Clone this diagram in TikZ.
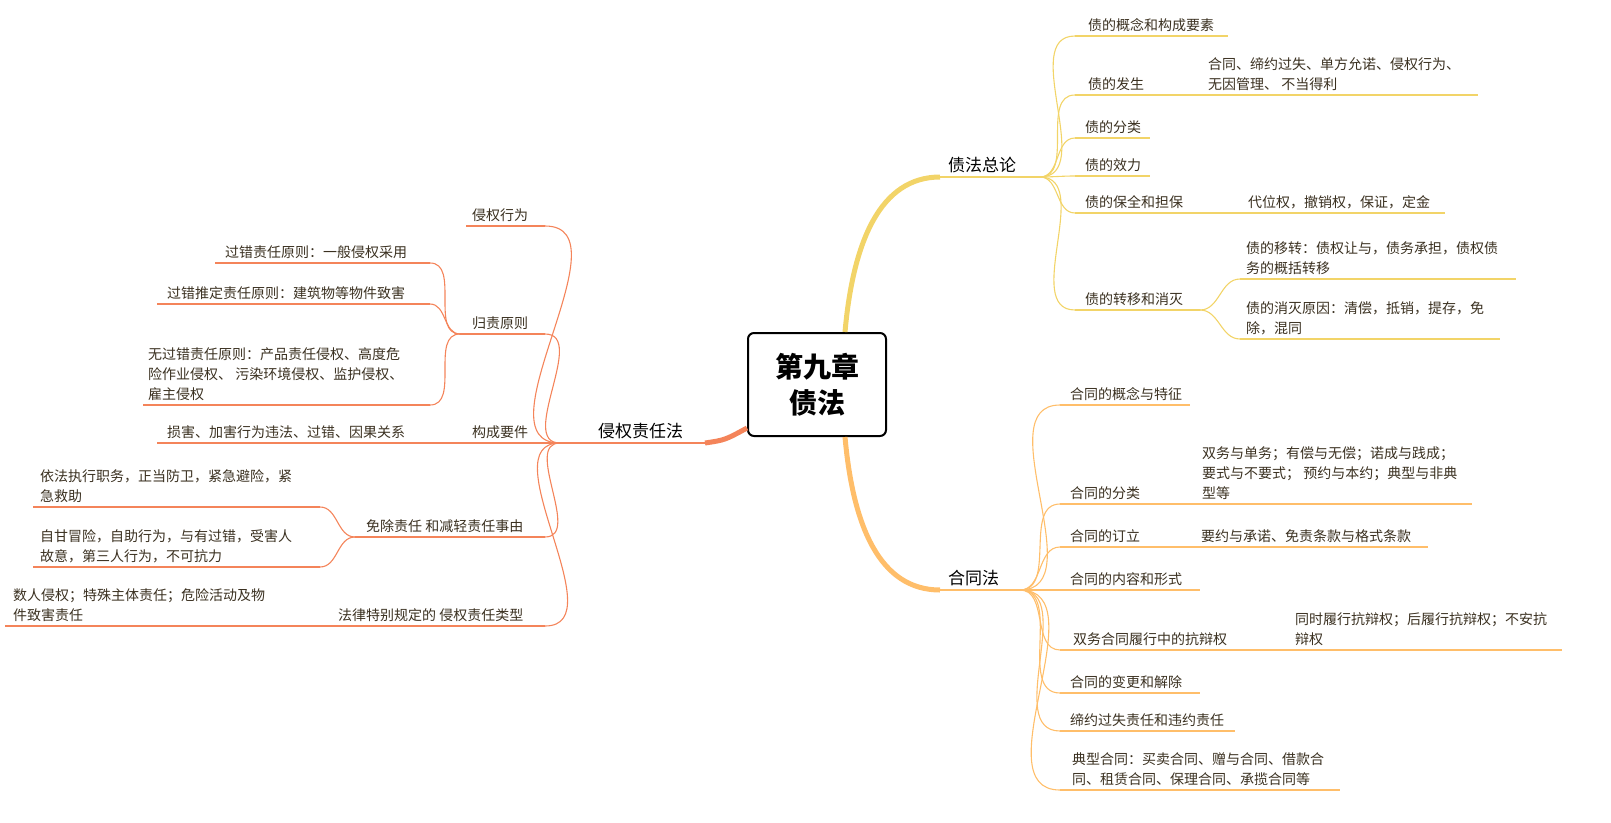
\documentclass[tikz,border=0pt]{standalone}
\usepackage{fontspec}
\setmainfont{Noto Sans CJK SC}
\usetikzlibrary{calc}
\definecolor{txt}{HTML}{3A3020}
\definecolor{cy}{HTML}{F2D468}
\definecolor{co}{HTML}{FFBE6A}
\definecolor{cr}{HTML}{F4845A}
\tikzset{
 t/.style={anchor=south west, inner sep=0pt, align=left, font=\fontsize{14}{20}\selectfont, text=txt},
 tb/.style={anchor=south west, inner sep=0pt, font=\fontsize{17}{20}\selectfont, text=black},
 ly/.style={cy, line width=1.1pt},
 lo/.style={co, line width=1.1pt},
 lr/.style={cr, line width=1.1pt},
}
% \br{name}{x1}{x2}{y}{textx}{text}{style}{textstyle}
\newcommand{\br}[8]{%
 \coordinate (#1) at (#2,#4); \coordinate (#1-e) at (#3,#4);
 \draw[#7] (#1) -- (#1-e);
 \node[#8] (#1-t) at (#5,#4-4) {#6};}
\begin{document}
\begin{tikzpicture}[x=1pt,y=-1pt]
\useasboundingbox (0,0) rectangle (1611,822);
\node[draw=black, line width=2pt, rounded corners=6pt, minimum width=138pt, minimum height=103pt, align=center, font=\fontsize{28}{36}\selectfont\bfseries] (center) at (817,384.5) {第九章\\债法};
% level 1
\br{zf}{940}{1040}{177}{948}{债法总论}{ly}{tb}
\br{ht}{940}{1020}{590}{948}{合同法}{lo}{tb}
\br{qq}{560}{705}{443}{598}{侵权责任法}{lr}{tb}
\draw[cy, line width=5pt] ($(center.north)+(28,0)$) .. controls +(8,-90) and (880,177) .. (zf);
\draw[co, line width=5pt] ($(center.south)+(28,0)$) .. controls +(8,90) and (880,590) .. (ht);
\draw[cr, line width=5pt] (center.west|-0,428) .. controls (725,440) .. (qq-e);
% 债法总论
\br{a1}{1075}{1228}{36}{1088}{债的概念和构成要素}{ly}{t}
\br{a2}{1075}{1200}{95}{1088}{债的发生}{ly}{t}
\br{a2c}{1200}{1478}{95}{1208}{合同、缔约过失、单方允诺、侵权行为、\\无因管理、 不当得利}{ly}{t}
\br{a3}{1075}{1150}{138}{1085}{债的分类}{ly}{t}
\br{a4}{1075}{1150}{176}{1085}{债的效力}{ly}{t}
\br{a5}{1075}{1240}{213}{1085}{债的保全和担保}{ly}{t}
\br{a5c}{1240}{1445}{213}{1248}{代位权，撤销权，保证，定金}{ly}{t}
\br{a6}{1075}{1200}{310}{1085}{债的转移和消灭}{ly}{t}
\br{a6a}{1240}{1516}{279}{1246}{债的移转：债权让与，债务承担，债权债\\务的概括转移}{ly}{t}
\br{a6b}{1240}{1500}{339}{1246}{债的消灭原因：清偿，抵销，提存，免\\除，混同}{ly}{t}
\foreach \c in {a1,a2,a3,a4,a5,a6} \draw[ly] (zf-e) to[out=0,in=180] (\c);
\draw[ly] (a6-e) to[out=0,in=180] (a6a);
\draw[ly] (a6-e) to[out=0,in=180] (a6b);
% 合同法
\br{b1}{1060}{1190}{405}{1070}{合同的概念与特征}{lo}{t}
\br{b2}{1060}{1195}{504}{1070}{合同的分类}{lo}{t}
\br{b2c}{1195}{1472}{504}{1202}{双务与单务；有偿与无偿；诺成与践成；\\要式与不要式； 预约与本约；典型与非典\\型等}{lo}{t}
\br{b3}{1060}{1195}{547}{1070}{合同的订立}{lo}{t}
\br{b3c}{1195}{1428}{547}{1201}{要约与承诺、免责条款与格式条款}{lo}{t}
\br{b4}{1060}{1200}{590}{1070}{合同的内容和形式}{lo}{t}
\br{b5}{1060}{1285}{650}{1073}{双务合同履行中的抗辩权}{lo}{t}
\br{b5c}{1285}{1562}{650}{1295}{同时履行抗辩权；后履行抗辩权；不安抗\\辩权}{lo}{t}
\br{b6}{1060}{1200}{693}{1070}{合同的变更和解除}{lo}{t}
\br{b7}{1060}{1235}{731}{1070}{缔约过失责任和违约责任}{lo}{t}
\br{b8}{1060}{1340}{790}{1072}{典型合同：买卖合同、赠与合同、借款合\\同、租赁合同、保理合同、承揽合同等}{lo}{t}
\foreach \c in {b1,b2,b3,b4,b5,b6,b7,b8} \draw[lo] (ht-e) to[out=0,in=180] (\c);
% 侵权责任法
\br{c1}{466}{545}{226}{472}{侵权行为}{lr}{t}
\br{c2}{460}{545}{334}{472}{归责原则}{lr}{t}
\br{c2a}{215}{430}{263}{225}{过错责任原则：一般侵权采用}{lr}{t}
\br{c2b}{157}{430}{304}{167}{过错推定责任原则：建筑物等物件致害}{lr}{t}
\br{c2c}{143}{430}{405}{148}{无过错责任原则：产品责任侵权、高度危\\险作业侵权、 污染环境侵权、监护侵权、\\雇主侵权}{lr}{t}
\br{c3}{460}{545}{443}{472}{构成要件}{lr}{t}
\br{c3c}{157}{460}{443}{167}{损害、加害行为违法、过错、因果关系}{lr}{t}
\br{c4}{355}{545}{537}{366}{免除责任 和减轻责任事由}{lr}{t}
\br{c4a}{33}{320}{507}{40}{依法执行职务，正当防卫，紧急避险，紧\\急救助}{lr}{t}
\br{c4b}{33}{320}{567}{40}{自甘冒险，自助行为，与有过错，受害人\\故意，第三人行为，不可抗力}{lr}{t}
\br{c5}{320}{545}{626}{338}{法律特别规定的 侵权责任类型}{lr}{t}
\br{c5c}{5}{320}{626}{13}{数人侵权；特殊主体责任；危险活动及物\\件致害责任}{lr}{t}
\foreach \c in {c1,c2,c3,c4,c5} \draw[lr] (qq) to[out=180,in=0] (\c-e);
\foreach \c in {c2a,c2b,c2c} \draw[lr] (c2) to[out=180,in=0] (\c-e);
\draw[lr] (c4) to[out=180,in=0] (c4a-e);
\draw[lr] (c4) to[out=180,in=0] (c4b-e);
\end{tikzpicture}
\end{document}
